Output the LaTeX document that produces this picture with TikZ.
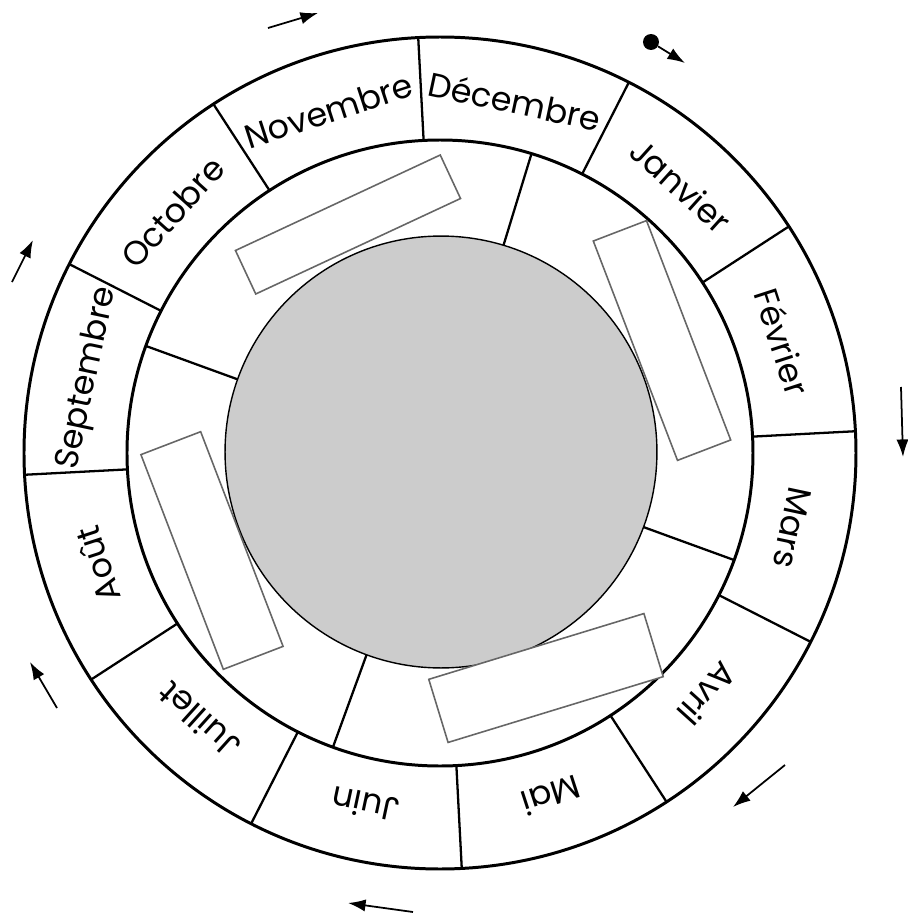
\documentclass[tikz,border=0pt]{standalone}
\usepackage{fontspec}
\setmainfont{Poppins}
\usepackage{tikz}
\usetikzlibrary{arrows.meta}

\begin{document}
\begin{tikzpicture}[
    x=0.02cm, y=0.02cm,
    >={Latex[length=10pt,width=7pt]},
    ring/.style={draw, line width=1.7pt},
    divider/.style={draw, line width=1.3pt},
    month/.style={font=\fontsize{19}{22}\selectfont, text=black, inner sep=0pt},
    blank/.style={rectangle, draw=black!60, fill=white, line width=0.9pt, inner sep=0pt},
    hub/.style={circle, draw, fill=black!20, line width=0.8pt, inner sep=0pt, minimum size=8.64cm},
    turn/.style={->, line width=1pt}
]
\useasboundingbox (-440,-464) rectangle (467,453);

% Rings
\draw[ring] (0,0) circle[radius=416];
\draw[ring] (0,0) circle[radius=313];

% Month dividers
\draw[divider] (93:313) -- (93:416);
\draw[divider] (63:313) -- (63:416);
\draw[divider] (33:313) -- (33:416);
\draw[divider] (3:313) -- (3:416);
\draw[divider] (-27:313) -- (-27:416);
\draw[divider] (-57:313) -- (-57:416);
\draw[divider] (-87:313) -- (-87:416);
\draw[divider] (-117:313) -- (-117:416);
\draw[divider] (-147:313) -- (-147:416);
\draw[divider] (183:313) -- (183:416);
\draw[divider] (153:313) -- (153:416);
\draw[divider] (123:313) -- (123:416);

% Inner dividers
\draw[divider] (73:200) -- (73:313);
\draw[divider] (160:200) -- (160:313);
\draw[divider] (250:200) -- (250:313);
\draw[divider] (340:200) -- (340:313);

% Centre disc
\node[hub] (hub) at (1,1) {};

% Blank boxes
\node[blank, minimum width=4.52cm, minimum height=0.96cm, rotate=25] (topbox) at (-92,228.5) {};
\node[blank, minimum width=4.7cm, minimum height=1.14cm, rotate=-69] (rightbox) at (222,112.5) {};
\node[blank, minimum width=4.5cm, minimum height=1.32cm, rotate=17] (bottombox) at (106,-225) {};
\node[blank, minimum width=4.6cm, minimum height=1.28cm, rotate=-69] (leftbox) at (-228,-97.5) {};

% Months
\node[month, rotate=-12] (dec) at (78:360) {Décembre};
\node[month, rotate=-42] (jan) at (48:360) {Janvier};
\node[month, rotate=-72] (feb) at (18:360) {Février};
\node[month, rotate=-102] (mar) at (-12:360) {Mars};
\node[month, rotate=-132] (apr) at (-42:360) {Avril};
\node[month, rotate=-162] (may) at (-72:360) {Mai};
\node[month, rotate=168] (jun) at (-102:360) {Juin};
\node[month, rotate=138] (jul) at (-132:360) {Juillet};
\node[month, rotate=108] (aug) at (198:360) {Août};
\node[month, rotate=78] (sep) at (168:360) {Septembre};
\node[month, rotate=48] (oct) at (138:360) {Octobre};
\node[month, rotate=18] (nov) at (108:360) {Novembre};

% Turning arrows
\node[circle, fill, inner sep=0pt, minimum size=0.32cm] (pin) at (211,411) {};
\draw[turn] (pin) -- (245,390);
\draw[turn] (-172,425) -- (-122,440);
\draw[turn] (461,66) -- (463,-4);
\draw[turn] (345,-312) -- (293,-354);
\draw[turn] (-27,-459) -- (-92,-450);
\draw[turn] (-383,-255) -- (-410,-209);
\draw[turn] (-428,171) -- (-407,213);

\end{tikzpicture}
\end{document}
